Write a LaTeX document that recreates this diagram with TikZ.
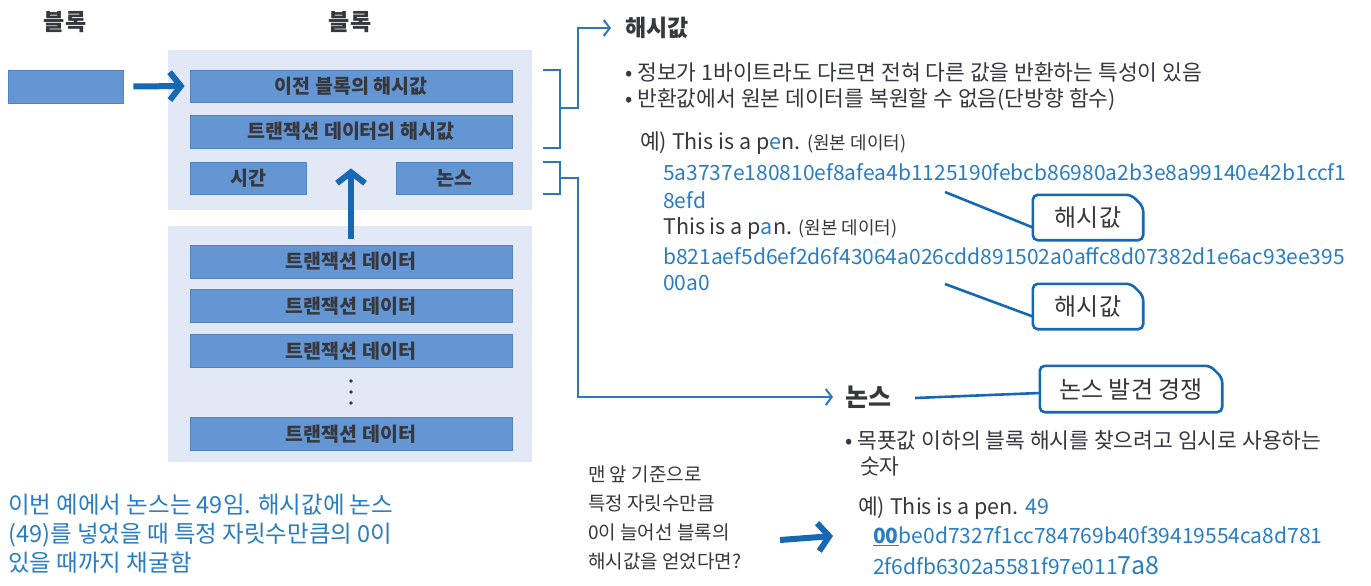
\documentclass[tikz,border=0pt]{standalone}
\usepackage{fontspec}
\setmainfont{Noto Sans CJK KR}
\usetikzlibrary{arrows.meta}
\definecolor{boxblue}{RGB}{100,150,212}
\definecolor{boxedge}{RGB}{82,130,192}
\definecolor{panel}{RGB}{226,232,246}
\definecolor{arrowblue}{RGB}{22,104,178}
\definecolor{lineblue}{RGB}{45,120,185}
\definecolor{txtblue}{RGB}{40,125,195}
\definecolor{txtgray}{RGB}{55,55,62}
\tikzset{
  panelbox/.style={fill=panel, draw=none, inner sep=0},
  bbox/.style={fill=boxblue, draw=boxedge, line width=0.8pt, inner sep=0,
    font=\bfseries\fontsize{19.5}{22}\selectfont, text=txtgray},
  fatarrow/.style={draw=arrowblue, line width=6pt,
    -{Straight Barb[length=11pt,width=28pt,line width=6pt]}},
  bracket/.style={draw=lineblue, line width=2pt},
  chev/.style={-{Straight Barb[length=6pt,width=16pt,line width=2pt]}},
  calloutline/.style={draw=arrowblue, line width=2.6pt, rounded corners=5pt},
  linkline/.style={draw=arrowblue, line width=2.6pt},
  calltext/.style={inner sep=0, font=\fontsize{24}{26}\selectfont, text=txtgray},
  body/.style={anchor=west, inner sep=0, font=\fontsize{21.5}{24}\selectfont, text=txtgray},
  hash/.style={anchor=west, inner sep=0, font=\fontsize{21}{24}\selectfont, text=txtblue},
  heading/.style={anchor=west, inner sep=0, font=\bfseries\fontsize{23}{26}\selectfont, text=txtgray},
  blocklabel/.style={inner sep=0, font=\bfseries\fontsize{23}{26}\selectfont, text=txtgray}
}
\begin{document}
\begin{tikzpicture}[x=1pt,y=-1pt]
\useasboundingbox (0,0) rectangle (1371,586);
\fill[white] (0,0) rectangle (1371,586);

% labels
\node[blocklabel] (lab1) at (65,22) {블록};
\node[blocklabel] (lab2) at (350,22) {블록};

% panels
\node[panelbox, minimum width=364pt, minimum height=160pt] (panel1) at (350,130) {};
\node[panelbox, minimum width=364pt, minimum height=236pt] (panel2) at (350,344) {};

% boxes
\node[bbox, minimum width=115pt, minimum height=33pt] (left) at (65.5,86.5) {};
\node[bbox, minimum width=322pt, minimum height=32pt] (prev) at (351,86) {이전 블록의 해시값};
\node[bbox, minimum width=322pt, minimum height=33pt] (txh) at (351,131.5) {트랜잭션 데이터의 해시값};
\node[bbox, minimum width=116pt, minimum height=32pt] (time) at (248,178) {시간};
\node[bbox, minimum width=116pt, minimum height=32pt] (nonce) at (454,178) {논스};
\node[bbox, minimum width=322pt, minimum height=33pt] (tx1) at (351,261.5) {트랜잭션 데이터};
\node[bbox, minimum width=322pt, minimum height=33pt] (tx2) at (351,306) {트랜잭션 데이터};
\node[bbox, minimum width=322pt, minimum height=33pt] (tx3) at (351,351) {트랜잭션 데이터};
\foreach \yy in {381,392,403}{\fill[txtgray] (351,\yy) circle (1.8pt);}
\node[bbox, minimum width=322pt, minimum height=33pt] (tx4) at (351,434) {트랜잭션 데이터};

% fat arrows
\draw[fatarrow] ([xshift=10pt]left.east) -- ([xshift=-5pt]prev.west);
\draw[fatarrow] ([yshift=6pt]tx1.north) -- ([yshift=-20pt]txh.south);

% right side headings
\node[heading] (hh) at (625,28) {해시값};
\node[heading, font=\bfseries\fontsize{25}{28}\selectfont] (nh) at (845,397) {논스};

% brackets
\coordinate (b1a) at (543,70);
\coordinate (b1b) at (560,70);
\coordinate (b1c) at (560,148);
\coordinate (b1d) at (543,148);
\coordinate (b1m) at (560,108);
\coordinate (b1k) at (578,108);
\draw[bracket] (b1a) -- (b1b) -- (b1c) -- (b1d);
\draw[bracket, chev] (b1m) -- (b1k) |- ([xshift=-14pt]hh.west);

\coordinate (b2a) at (543,162);
\coordinate (b2b) at (560,162);
\coordinate (b2c) at (560,194);
\coordinate (b2d) at (543,194);
\coordinate (b2m) at (560,178);
\coordinate (b2k) at (578,178);
\draw[bracket] (b2a) -- (b2b) -- (b2c) -- (b2d);
\draw[bracket, chev] (b2m) -- (b2k) |- ([xshift=-12pt]nh.west);

% hash text
\node[body] (t1) at (625,72) {• 정보가 1바이트라도 다르면 전혀 다른 값을 반환하는 특성이 있음};
\node[body] (t2) at (625,100) {• 반환값에서 원본 데이터를 복원할 수 없음(단방향 함수)};
\node[body] (t3) at (640,143) {예) This is a p\textcolor{txtblue}{e}n. {\fontsize{18}{20}\selectfont(원본 데이터)}};
\node[hash] (h1a) at (663,172) {5a3737e180810ef8afea4b1125190febcb86980a2b3e8a99140e42b1ccf1};
\node[hash] (h1b) at (663,200) {8efd};
\node[body] (t4) at (663,228) {This is a p\textcolor{txtblue}{a}n. {\fontsize{18}{20}\selectfont(원본 데이터)}};
\node[hash] (h2a) at (663,256) {b821aef5d6ef2d6f43064a026cdd891502a0affc8d07382d1e6ac93ee395};
\node[hash] (h2b) at (663,283) {00a0};

% callouts
\node[calltext, minimum width=110pt, minimum height=45pt] (c1) at (1088,217.5) {해시값};
\node[calltext, minimum width=110pt, minimum height=45pt] (c2) at (1088,306.5) {해시값};
\node[calltext, minimum width=182pt, minimum height=46pt] (c3) at (1131,389) {논스 발견 경쟁};
\foreach \c in {c1,c2,c3}{
  \draw[calloutline] (\c.south west) -- (\c.north west) -- ([xshift=-12pt]\c.north east)
     -- ([yshift=-12pt]\c.north east) -- (\c.south east) -- cycle;
}
\coordinate (l1) at (945,192);
\coordinate (l2) at (945,284);
\coordinate (l3) at (915,398);
\draw[linkline] (l1) -- ([yshift=-10pt]c1.west);
\draw[linkline] (l2) -- ([yshift=-10pt]c2.west);
\draw[linkline] (l3) -- ([yshift=-4pt]c3.west);

% nonce text
\node[body] (n1) at (845,440) {• 목푯값 이하의 블록 해시를 찾으려고 임시로 사용하는};
\node[body] (n2) at (860,466) {숫자};
\node[body] (n3) at (858,508) {예) This is a pen. \textcolor{txtblue}{49}};
\node[hash] (n4) at (873,536) {\underline{\textbf{00}}be0d7327f1cc784769b40f39419554ca8d781};
\node[hash] (n5) at (873,566) {2f6dfb6302a5581f97e011{\fontsize{25}{26}\selectfont 7a8}};

% question text and arrow
\node[inner sep=0, anchor=north west, align=left, text=txtgray, font=\fontsize{19}{28.7}\selectfont] (q) at (588,466) {맨 앞 기준으로\\특정 자릿수만큼\\0이 늘어선 블록의\\해시값을 얻었다면?};
\coordinate (qa) at (780,540);
\draw[fatarrow] (qa) -- ([xshift=-40pt]n4.west);

% bottom-left note
\node[inner sep=0, anchor=north west, align=left, text=txtblue, font=\fontsize{23.5}{29}\selectfont] (note) at (8,494) {이번 예에서 논스는 49임. 해시값에 논스\\(49)를 넣었을 때 특정 자릿수만큼의 0이\\있을 때까지 채굴함};
\end{tikzpicture}
\end{document}
